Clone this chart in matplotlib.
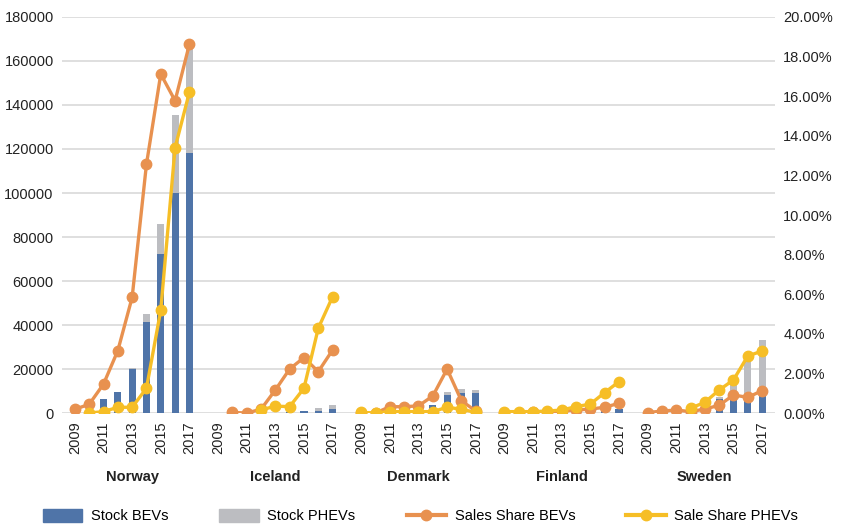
import numpy as np
import matplotlib
matplotlib.use('Agg')
import matplotlib.pyplot as plt
from matplotlib.ticker import PercentFormatter
from matplotlib.lines import Line2D
from matplotlib.patches import Patch

plt.rcParams['font.family'] = ['Liberation Sans', 'DejaVu Sans']

# Data
countries = ['Norway', 'Iceland', 'Denmark', 'Finland', 'Sweden']
years = [2009, 2010, 2011, 2012, 2013, 2014, 2015, 2016, 2017]
nan = np.nan

stock_bev = {
    'Norway':  [1500, 2500, 6400, 9400, 20000, 41500, 72300, 100000, 118300],
    'Iceland': [0, 0, 0, 0, 100, 300, 800, 1000, 2000],
    'Denmark': [0, 0, 500, 1000, 1500, 3600, 8200, 8900, 8900],
    'Finland': [0, 0, 0, 0, 0, 0, 500, 1000, 1700],
    'Sweden':  [0, 0, 0, 500, 1500, 6400, 6500, 5500, 8500],
}
stock_phev = {
    'Norway':  [0, 0, 0, 0, 300, 3500, 13700, 35500, 48200],
    'Iceland': [0, 0, 0, 0, 0, 0, 100, 1300, 1600],
    'Denmark': [0, 0, 0, 0, 0, 200, 1200, 2000, 1600],
    'Finland': [0, 0, 0, 0, 0, 0, 0, 0, 0],
    'Sweden':  [0, 0, 0, 0, 500, 1000, 10500, 19500, 24500],
}
share_bev = {
    'Norway':  [0.19, 0.44, 1.46, 3.15, 5.84, 12.56, 17.12, 15.77, 18.62],
    'Iceland': [nan, 0.03, 0.0, 0.19, 1.16, 2.22, 2.8, 2.09, 3.18],
    'Denmark': [0.0, 0.0, 0.32, 0.32, 0.36, 0.86, 2.22, 0.62, 0.1],
    'Finland': [0.0, 0.0, 0.05, 0.05, 0.1, 0.15, 0.2, 0.29, 0.49],
    'Sweden':  [0.02, 0.1, 0.15, 0.07, 0.2, 0.39, 0.91, 0.79, 1.13],
}
share_phev = {
    'Norway':  [nan, 0.0, 0.07, 0.29, 0.29, 1.25, 5.2, 13.4, 16.2],
    'Iceland': [nan, nan, nan, 0.15, 0.35, 0.32, 1.25, 4.28, 5.87],
    'Denmark': [0.03, 0.0, 0.07, 0.07, 0.07, 0.07, 0.29, 0.19, 0.03],
    'Finland': [0.07, 0.07, 0.07, 0.1, 0.15, 0.32, 0.45, 1.03, 1.58],
    'Sweden':  [nan, nan, nan, 0.24, 0.54, 1.16, 1.67, 2.88, 3.13],
}

c_bev = '#4F74A8'
c_phev = '#BCBDC1'
c_sbev = '#E8914F'
c_sphev = '#F6BE26'

fig = plt.figure(figsize=(8.41, 5.26), dpi=100)
ax = fig.add_axes([0.0737, 0.2148, 0.8478, 0.7529])
ax2 = ax.twinx()

ny = len(years)
bw = 0.5
tick_pos, tick_lab = [], []
for i, c in enumerate(countries):
    x = np.arange(ny) + i * (ny + 1)
    ax.bar(x, stock_bev[c], bw, color=c_bev, zorder=2)
    ax.bar(x, stock_phev[c], bw, bottom=stock_bev[c], color=c_phev, zorder=2)
    ax2.plot(x, share_bev[c], color=c_sbev, lw=2.4, marker='o', ms=7.5, zorder=3)
    ax2.plot(x, share_phev[c], color=c_sphev, lw=2.4, marker='o', ms=7.5, zorder=4)
    for j in range(0, ny, 2):
        tick_pos.append(x[j])
        tick_lab.append(str(years[j]))
    # country label under the year labels
    ax.text(x[4], -0.162, c, ha='center', va='center', fontsize=10.5,
            fontweight='bold', color='#222222', transform=ax.get_xaxis_transform())

ax.set_xlim(-0.9, 48.9)
ax.set_ylim(0, 180000)
ax.set_yticks(np.arange(0, 180001, 20000))
ax2.set_ylim(0, 20)
ax2.set_yticks(np.arange(0, 20.1, 2))
ax2.yaxis.set_major_formatter(PercentFormatter(decimals=2))

ax.set_xticks(tick_pos)
ax.set_xticklabels(tick_lab, rotation=90)
ax.grid(axis='y', color='#D9D9D9', lw=1.2, zorder=0)
ax.set_axisbelow(True)

for a in (ax, ax2):
    for s in a.spines.values():
        s.set_visible(False)
    a.tick_params(length=0, labelsize=10.5, colors='#222222')
ax.tick_params(axis='x', pad=6)
ax.tick_params(axis='y', pad=6)
ax2.tick_params(axis='y', pad=6)

handles = [
    Patch(color=c_bev),
    Patch(color=c_phev),
    Line2D([], [], color=c_sbev, lw=3, marker='o', ms=7.5),
    Line2D([], [], color=c_sphev, lw=3, marker='o', ms=7.5),
]
labels = ['Stock BEVs', 'Stock PHEVs', 'Sales Share BEVs', 'Sale Share PHEVs']
fig.legend(handles, labels, loc='center', bbox_to_anchor=(0.5, 0.019), ncol=4,
           frameon=False, fontsize=10.5, handlelength=2.7, handleheight=1.0,
           columnspacing=3.5, handletextpad=0.6)

fig.savefig('out.png', dpi=100)
